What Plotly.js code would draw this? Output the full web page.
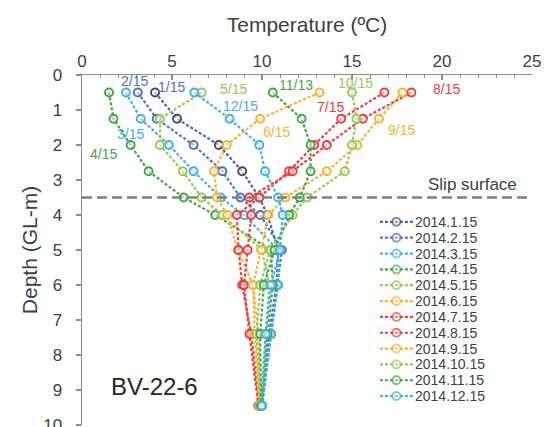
<!DOCTYPE html>
<html>
<head>
<meta charset="utf-8">
<script src="https://cdn.plot.ly/plotly-3.0.1.min.js"></script>
<style>html,body{margin:0;padding:0;background:#fff;}#chart{width:544px;height:427px;}</style>
</head>
<body>
<div id="chart"></div>
<script>
// Depth (GL-m) of sensors
const depths = [0.5, 1.25, 2, 2.75, 3.5, 4, 5, 6, 7.4, 9.45];
// Temperature (ºC) profiles
const seriesNames = ["2014.1.15","2014.2.15","2014.3.15","2014.4.15","2014.5.15","2014.6.15",
                     "2014.7.15","2014.8.15","2014.9.15","2014.10.15","2014.11.15","2014.12.15"];
const tJan = [4.06, 5.28, 7.6, 8.9, 9.85, 10.3, 10.9, 10.8, 10.4, 10.0];
const tFeb = [3.1, 4.15, 6.2, 7.8, 8.8, 9.9, 11.1, 10.85, 10.5, 10.0];
const tMar = [2.44, 3.26, 4.83, 6.2, 7.7, 9.0, 10.9, 10.9, 10.5, 10.0];
const tApr = [1.5, 1.75, 2.7, 3.7, 5.65, 7.4, 10.5, 10.6, 10.3, 10.0];
const tMay = [6.65, 4.33, 4.33, 5.6, 6.65, 7.8, 10.0, 10.4, 10.2, 9.95];
const tJun = [13.2, 9.9, 8.04, 7.33, 7.5, 8.07, 8.65, 9.5, 9.8, 9.9];
const tJul = [16.8, 14.4, 12.9, 11.5, 9.85, 8.6, 8.7, 8.9, 9.4, 9.85];
const tAug = [18.3, 15.6, 13.6, 11.7, 9.3, 9.4, 9.2, 9.0, 9.3, 9.8];
const tSep = [17.8, 16.5, 15.3, 13.6, 11.3, 10.35, 9.95, 9.5, 9.6, 9.85];
const tOct = [15.0, 15.25, 15.0, 14.6, 12.5, 11.7, 10.45, 9.9, 9.7, 9.9];
const tNov = [10.6, 12.2, 12.7, 12.7, 12.1, 11.5, 10.7, 10.1, 9.9, 9.95];
const tDec = [6.24, 8.2, 9.85, 10.17, 10.9, 11.15, 11.0, 10.5, 10.2, 10.0];
const allTemps = [tJan,tFeb,tMar,tApr,tMay,tJun,tJul,tAug,tSep,tOct,tNov,tDec];

// Curve labels
const curveLabels = ["1/15","2/15","3/15","4/15","5/15","6/15","7/15","8/15","9/15","10/15","11/13","12/15"];
const slipDepth = 3.5;

const FONT = 'Liberation Sans, Arial, sans-serif';
const lineColors = ["#3d6db5","#4a7cc4","#45b0e1","#43a648","#93c955","#f6b335",
                    "#f03c3c","#ee3b3b","#f6b335","#93c955","#43a648","#45b0e1"];
const markerEdge = ["#3f4a6e","#4a74b8","#45b0e1","#43a648","#93c955","#f6b335",
                    "#f03c3c","#ee3b3b","#f6b335","#93c955","#43a648","#45b0e1"];
const labelColors = ["#4a74c0","#4a74c0","#45b0e1","#43a648","#93c955","#f6b335",
                     "#f03c3c","#f03c3c","#f6b335","#93c955","#43a648","#45b0e1"];
const labelPos = [[4.98,0.33],[2.94,0.17],[2.7,1.69],[1.18,2.26],[8.44,0.4],[10.8,1.64],
                  [13.78,0.92],[20.26,0.4],[17.76,1.57],[15.2,0.24],[11.87,0.29],[8.8,0.88]];

function styleOf(i) {
  return {
    line: {color: lineColors[i], width: 2.2, dash: '3px,2px'},
    marker: {symbol: 'circle', size: 8, color: 'rgba(255,255,255,0.5)',
             line: {color: markerEdge[i], width: 1.9}}
  };
}

const traces = allTemps.map((t, i) => Object.assign({
  type: 'scatter', mode: 'lines+markers', showlegend: false,
  x: t, y: depths, name: seriesNames[i], xaxis: 'x', yaxis: 'y'
}, styleOf(i)));

// Legend glyphs drawn on a helper axis pair (row index = entry)
seriesNames.forEach((n, i) => {
  const s = styleOf(i);
  traces.push({
    type: 'scatter', mode: 'lines+markers', showlegend: false, hoverinfo: 'skip',
    x: [0, 1, 2], y: [i, i, i], xaxis: 'x2', yaxis: 'y2',
    line: s.line,
    marker: {symbol: 'circle', size: [0, 8, 0], color: s.marker.color,
             line: {color: s.marker.line.color, width: [0, 1.9, 0]}}
  });
});

const annotations = curveLabels.map((s, i) => ({
  x: labelPos[i][0], y: labelPos[i][1], xref: 'x', yref: 'y', text: s, showarrow: false,
  font: {family: FONT, size: 14, color: labelColors[i]}
}));
annotations.push({x: 21.7, y: 3.14, xref: 'x', yref: 'y', text: 'Slip surface', showarrow: false,
  font: {family: FONT, size: 17, color: '#404040'}});
annotations.push({x: 1.5, y: 8.9, xref: 'x', yref: 'y', xanchor: 'left', text: 'BV-22-6', showarrow: false,
  font: {family: FONT, size: 24, color: '#262626'}});
seriesNames.forEach((n, i) => {
  annotations.push({x: 2.05, y: i, xref: 'x2', yref: 'y2', xanchor: 'left', text: n, showarrow: false,
    borderpad: 0, font: {family: FONT, size: 14, color: '#404040'}});
});

const layout = {
  width: 544, height: 427,
  margin: {l: 82, r: 12, t: 75, b: 2, pad: 0},
  paper_bgcolor: '#fff', plot_bgcolor: '#fff',
  font: {family: FONT, color: '#404040'},
  showlegend: false,
  xaxis: {
    side: 'top', range: [0, 25], dtick: 5, tick0: 0, showgrid: false, zeroline: false,
    automargin: false, anchor: 'y',
    showline: true, linecolor: '#8c8c8c', linewidth: 1.5,
    ticks: 'inside', ticklen: 5, tickcolor: '#8c8c8c', tickwidth: 1.5,
    minor: {dtick: 1, ticks: 'inside', ticklen: 3, tickcolor: '#8c8c8c', tickwidth: 1},
    tickfont: {size: 17, color: '#404040'},
    title: {text: 'Temperature (ºC)', font: {size: 21, color: '#404040'}, standoff: 13}
  },
  yaxis: {
    range: [10, 0], dtick: 1, tick0: 0, showgrid: false, zeroline: false,
    automargin: false, anchor: 'x', ticklabeloverflow: 'allow',
    showline: true, linecolor: '#8c8c8c', linewidth: 1.5,
    ticks: 'outside', ticklen: 5, tickcolor: '#8c8c8c', tickwidth: 1.5,
    ticklabelstandoff: 10,
    tickfont: {size: 17, color: '#404040'},
    title: {text: 'Depth (GL-m)', font: {size: 21, color: '#404040'}, standoff: 0}
  },
  xaxis2: {domain: [0.662, 0.98], range: [0, 8.67], visible: false, anchor: 'y2', automargin: false},
  yaxis2: {domain: [0.06, 0.603], range: [11.5, -0.5], visible: false, anchor: 'x2', automargin: false},
  shapes: [{type: 'line', xref: 'x', yref: 'y', x0: 0, x1: 25, y0: slipDepth, y1: slipDepth,
            line: {color: '#808080', width: 2.5, dash: '10px,5px'}}],
  annotations: annotations
};

Plotly.newPlot('chart', traces, layout, {displayModeBar: false, staticPlot: true});
</script>
</body>
</html>
